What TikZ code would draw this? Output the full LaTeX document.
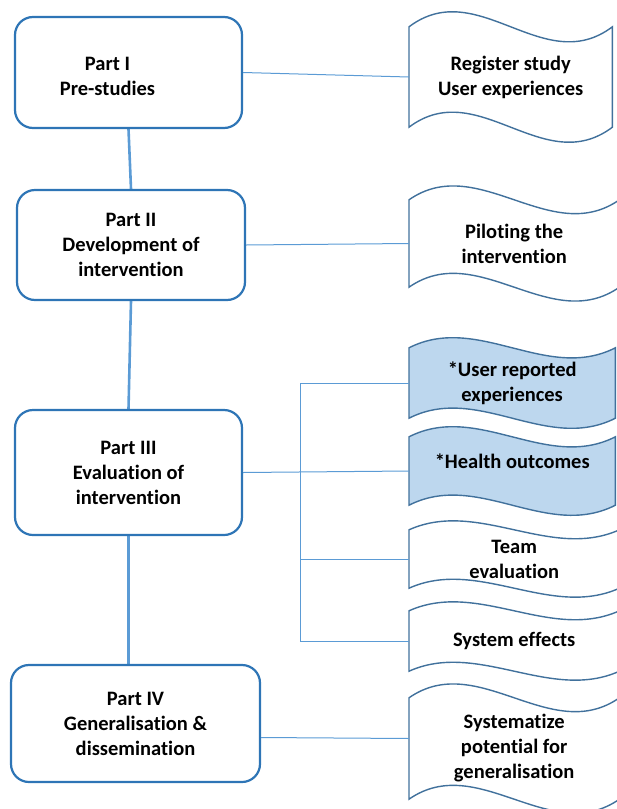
\documentclass[tikz,border=0pt]{standalone}
\usepackage{fontspec}
\setmainfont{Carlito}[Ligatures=NoCommon]
\usepackage{xcolor}
\usetikzlibrary{positioning,backgrounds}
\definecolor{partblue}{RGB}{46,117,182}
\definecolor{linkblue}{RGB}{91,155,213}
\definecolor{waveedge}{RGB}{65,113,156}
\definecolor{wavefill}{RGB}{189,215,238}
\tikzset{
  partbox/.style={rectangle,draw=partblue,line width=2.2pt,fill=white,
    rounded corners=18pt,align=center,minimum width=227pt,
    minimum height=111pt,font=\fontsize{20.5}{25}\selectfont\bfseries},
  parttext/.style={align=center,font=\fontsize{20.5}{25}\selectfont\bfseries},
  wavebox/.style={rectangle,align=center,minimum width=206pt,inner sep=2pt,
    anchor=west,font=\fontsize{20.5}{25}\selectfont\bfseries},
  waveline/.style={draw=waveedge,line width=1.4pt},
  spine/.style={line width=2.6pt,color=linkblue},
  link/.style={line width=1pt,color=linkblue}
}
\begin{document}
\begin{tikzpicture}[x=1pt,y=1pt]
  \useasboundingbox (0,0) rectangle (617,-809);
  % Left column: the four parts
  \node[partbox] (p1) at (128.5,-72.5) {};
  \node[parttext] (p1t) at ([xshift=-21pt,yshift=-4pt]p1.center) {Part I\\Pre-studies};
  \node[partbox,minimum width=228pt,minimum height=110pt] (p2) at (131,-245)
    {Part II\\Development of\\intervention};
  \node[partbox,minimum height=125pt] (p3) at (128.5,-472.5)
    {Part III\\Evaluation of\\intervention};
  \node[partbox,minimum width=249pt,minimum height=117pt] (p4) at (135.5,-723.5)
    {Part IV\\Generalisation \&\\dissemination};

  % Right column: wave shaped outputs
  \node[wavebox,minimum width=203pt,minimum height=100pt] (w1) at (409,-77)
    {Register study\\User experiences};
  \node[wavebox,minimum width=210pt,minimum height=87pt] (w2) at (409,-243.5)
    {Piloting the\\intervention};
  \node[wavebox,minimum height=70pt] (w3) at (409,-383)
    {*User reported\\experiences};
  \node[wavebox,minimum height=68pt,text depth=20pt] (w4) at (409,-471)
    {*Health outcomes};
  \node[wavebox,minimum width=210pt,minimum height=58pt] (w5) at (409,-559)
    {Team\\evaluation};
  \node[wavebox,minimum width=210pt,minimum height=60pt] (w6) at (409,-641)
    {System effects};
  \node[wavebox,minimum width=210pt,minimum height=101pt] (w7) at (409,-748.5)
    {Systematize\\potential for\\generalisation};

  \begin{scope}[on background layer]
    % Wave outlines
    \foreach \w/\k/\c in {w1/52/white,w2/48/white,w3/35/wavefill,w4/35/wavefill,
                          w5/31/white,w6/31/white,w7/48/white}
      \draw[waveline,fill=\c] (\w.north west) .. controls +(69,\k) and +(-69,-\k) .. (\w.north east)
        -- (\w.south east) .. controls +(-69,-\k) and +(69,\k) .. (\w.south west) -- cycle;
    % Spine between parts
    \draw[spine] (p1.south) -- (p2.north);
    \draw[spine] (p2.south) -- (p3.north);
    \draw[spine] (p3.south) -- (p3.south |- p4.north);
  \end{scope}

  % Links to outputs
  \draw[link] (p1.east) -- (w1.west);
  \draw[link] (p2.east) -- (w2.west);
  \draw[link] (p3.east) -- (w4.west);
  \coordinate (fork) at (300,-383);
  \draw[link] (w3.west -| fork) -- (w6.west -| fork);
  \foreach \w in {w3,w5,w6}
    \draw[link] (\w.west -| fork) -- (\w.west);
  \draw[link] ([yshift=-14pt]p4.east) -- ([yshift=10pt]w7.west);
\end{tikzpicture}
\end{document}
